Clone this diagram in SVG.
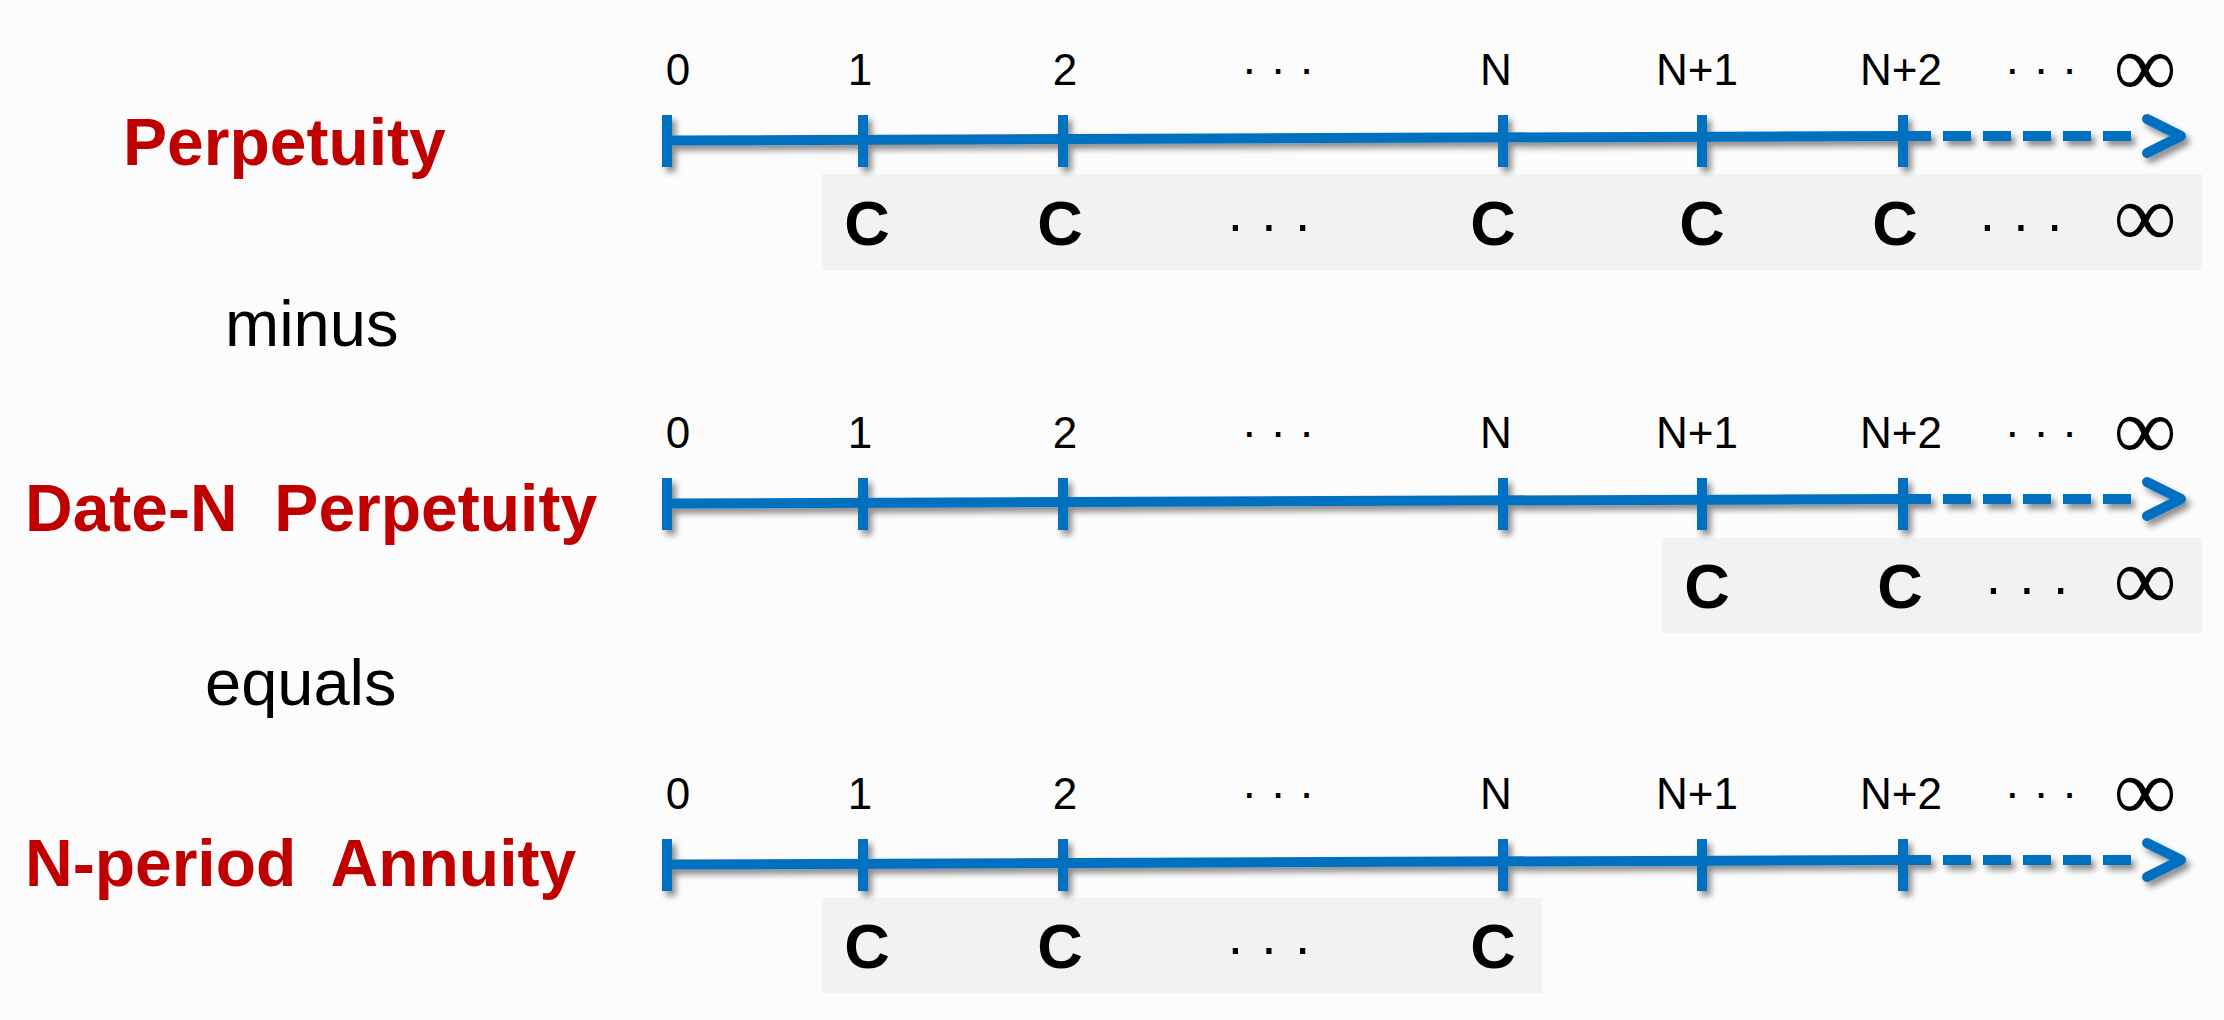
<svg xmlns="http://www.w3.org/2000/svg" width="2224" height="1020" viewBox="0 0 2224 1020">
  <style>
    .title { font-family: "Liberation Sans", Arial, sans-serif; font-weight: bold; font-size: 66px; fill: #C00000; white-space: pre; }
    .op { font-family: "Liberation Sans", Arial, sans-serif; font-size: 65px; fill: #000; }
    .num { font-family: "Liberation Sans", Arial, sans-serif; font-size: 44px; fill: #000; text-anchor: middle; }
    .cf { font-family: "Liberation Sans", Arial, sans-serif; font-weight: bold; font-size: 63px; fill: #000; text-anchor: middle; }
    .dt { font-family: "Liberation Sans", Arial, sans-serif; font-size: 47px; fill: #000; text-anchor: middle; white-space: pre; }
    .dc { font-family: "Liberation Sans", Arial, sans-serif; font-size: 55px; fill: #000; text-anchor: middle; white-space: pre; }
    .inf { font-family: "Liberation Serif", "Times New Roman", serif; font-size: 88px; fill: #000; text-anchor: middle; }
    .box { fill: #F2F2F2; }
    .axis { stroke: #0070C0; stroke-width: 10; fill: none; }
    .tick { fill: #0070C0; }
    .dash { stroke: #0070C0; stroke-width: 10; fill: none; stroke-dasharray: 28 12; }
    .head { stroke: #0070C0; stroke-width: 10; fill: none; stroke-linecap: round; stroke-linejoin: round; }
  </style>
  <defs>
    <filter id="sh" x="-5%" y="-60%" width="110%" height="220%">
      <feGaussianBlur in="SourceAlpha" stdDeviation="3"/>
      <feOffset dx="4" dy="5"/>
      <feComponentTransfer><feFuncA type="linear" slope="0.45"/></feComponentTransfer>
      <feMerge><feMergeNode/><feMergeNode in="SourceGraphic"/></feMerge>
    </filter>
  </defs>
  <rect width="2224" height="1020" fill="#FCFCFC"/>

  <!-- Row 1: Perpetuity -->
  <g id="perpetuity">
    <text class="title" x="123" y="165">Perpetuity</text>
    <rect class="box" x="822" y="174" width="1380" height="96"/>
    <g class="labels">
      <text class="num" x="678" y="85">0</text>
      <text class="num" x="860" y="85">1</text>
      <text class="num" x="1065" y="85">2</text>
      <text class="dt" x="1278" y="84">· · ·</text>
      <text class="num" x="1496" y="85">N</text>
      <text class="num" x="1697" y="85">N+1</text>
      <text class="num" x="1901" y="85">N+2</text>
      <text class="dt" x="2041" y="84">· · ·</text>
      <text class="inf" x="2145" y="96">∞</text>
    </g>
    <g class="cashflows">
      <text class="cf" x="867" y="245">C</text>
      <text class="cf" x="1060" y="245">C</text>
      <text class="dc" x="1269" y="243">· · ·</text>
      <text class="cf" x="1493" y="245">C</text>
      <text class="cf" x="1702" y="245">C</text>
      <text class="cf" x="1895" y="245">C</text>
      <text class="dc" x="2021" y="243">· · ·</text>
      <text class="inf" x="2145" y="246">∞</text>
    </g>
  </g>

  <!-- Row 2: Date-N Perpetuity -->
  <g id="date-n-perpetuity">
    <text class="title" x="25" y="531">Date-N  Perpetuity</text>
    <rect class="box" x="1662" y="538" width="540" height="95"/>
    <g class="labels">
      <text class="num" x="678" y="448">0</text>
      <text class="num" x="860" y="448">1</text>
      <text class="num" x="1065" y="448">2</text>
      <text class="dt" x="1278" y="447">· · ·</text>
      <text class="num" x="1496" y="448">N</text>
      <text class="num" x="1697" y="448">N+1</text>
      <text class="num" x="1901" y="448">N+2</text>
      <text class="dt" x="2041" y="447">· · ·</text>
      <text class="inf" x="2145" y="459">∞</text>
    </g>
    <g class="cashflows">
      <text class="cf" x="1707" y="608">C</text>
      <text class="cf" x="1900" y="608">C</text>
      <text class="dc" x="2027" y="606">· · ·</text>
      <text class="inf" x="2145" y="609">∞</text>
    </g>
  </g>

  <!-- Row 3: N-period Annuity -->
  <g id="n-period-annuity">
    <text class="title" x="25" y="886">N-period  Annuity</text>
    <rect class="box" x="822" y="898" width="720" height="95"/>
    <g class="labels">
      <text class="num" x="678" y="809">0</text>
      <text class="num" x="860" y="809">1</text>
      <text class="num" x="1065" y="809">2</text>
      <text class="dt" x="1278" y="808">· · ·</text>
      <text class="num" x="1496" y="809">N</text>
      <text class="num" x="1697" y="809">N+1</text>
      <text class="num" x="1901" y="809">N+2</text>
      <text class="dt" x="2041" y="808">· · ·</text>
      <text class="inf" x="2145" y="820">∞</text>
    </g>
    <g class="cashflows">
      <text class="cf" x="867" y="968">C</text>
      <text class="cf" x="1060" y="968">C</text>
      <text class="dc" x="1269" y="966">· · ·</text>
      <text class="cf" x="1493" y="968">C</text>
    </g>
  </g>

  <!-- Operators -->
  <g id="minus"><text class="op" x="225" y="346">minus</text></g>
  <g id="equals"><text class="op" x="205" y="705">equals</text></g>

  <!-- Connectors: timelines -->
  <g id="connectors">
    <g id="timeline-1" filter="url(#sh)">
      <path class="axis" d="M667,140.5 L1903,136"/>
      <path class="dash" d="M1903,136 L2134,136"/>
      <path class="head" d="M2147,119 L2181,136 L2147,153"/>
      <rect class="tick" x="662" y="115" width="10" height="52"/>
      <rect class="tick" x="858" y="115" width="10" height="52"/>
      <rect class="tick" x="1058" y="115" width="10" height="52"/>
      <rect class="tick" x="1498" y="115" width="10" height="52"/>
      <rect class="tick" x="1697" y="115" width="10" height="52"/>
      <rect class="tick" x="1898" y="115" width="10" height="52"/>
    </g>
    <g id="timeline-2" filter="url(#sh)" transform="translate(0,363)">
      <path class="axis" d="M667,140.5 L1903,136"/>
      <path class="dash" d="M1903,136 L2134,136"/>
      <path class="head" d="M2147,119 L2181,136 L2147,153"/>
      <rect class="tick" x="662" y="115" width="10" height="52"/>
      <rect class="tick" x="858" y="115" width="10" height="52"/>
      <rect class="tick" x="1058" y="115" width="10" height="52"/>
      <rect class="tick" x="1498" y="115" width="10" height="52"/>
      <rect class="tick" x="1697" y="115" width="10" height="52"/>
      <rect class="tick" x="1898" y="115" width="10" height="52"/>
    </g>
    <g id="timeline-3" filter="url(#sh)" transform="translate(0,724)">
      <path class="axis" d="M667,140.5 L1903,136"/>
      <path class="dash" d="M1903,136 L2134,136"/>
      <path class="head" d="M2147,119 L2181,136 L2147,153"/>
      <rect class="tick" x="662" y="115" width="10" height="52"/>
      <rect class="tick" x="858" y="115" width="10" height="52"/>
      <rect class="tick" x="1058" y="115" width="10" height="52"/>
      <rect class="tick" x="1498" y="115" width="10" height="52"/>
      <rect class="tick" x="1697" y="115" width="10" height="52"/>
      <rect class="tick" x="1898" y="115" width="10" height="52"/>
    </g>
  </g>
</svg>
